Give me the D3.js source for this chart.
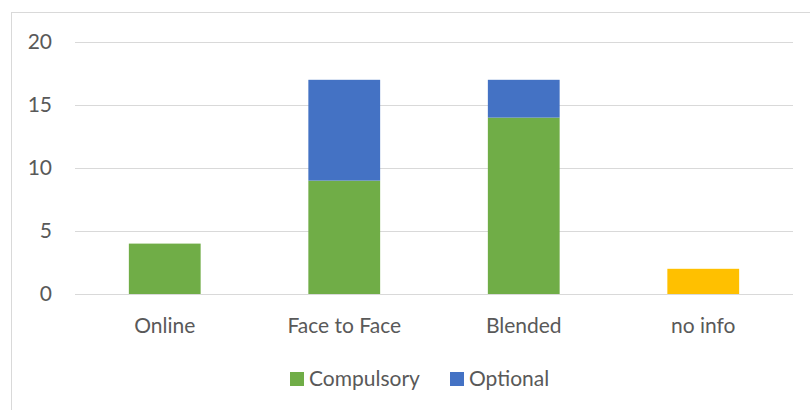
<!DOCTYPE html>
<html>
<head>
<meta charset="utf-8">
<script src="https://cdn.jsdelivr.net/npm/d3@7"></script>
<style>
  body { margin: 0; background: #fff; }
  svg { display: block; font-family: Lato, "Open Sans", sans-serif; }
</style>
</head>
<body>
<script>
const categories = ['Online', 'Face to Face', 'Blended', 'no info'];
const compulsory = [4, 9, 14, 0];
const optional = [0, 8, 3, 0];
const noInfo = [0, 0, 0, 2];
const yTicks = [0, 5, 10, 15, 20];

const seriesKeys = ['Compulsory', 'Optional', 'No info'];
const seriesColors = ['#70AD47', '#4472C4', '#FFC000'];
const legendKeys = ['Compulsory', 'Optional'];

const WIDTH = 810;
const HEIGHT = 410;
const FONT = 21;

const rows = categories.map((c, i) => ({
  cat: c,
  'Compulsory': compulsory[i],
  'Optional': optional[i],
  'No info': noInfo[i]
}));

const svg = d3.select('body').append('svg')
  .attr('width', WIDTH)
  .attr('height', HEIGHT);

// chart frame (cut off at right and bottom like the original)
svg.append('rect')
  .attr('x', 11.5).attr('y', 12.5)
  .attr('width', 820).attr('height', 420)
  .attr('fill', 'none')
  .attr('stroke', '#d9d9d9');

const x = d3.scaleBand()
  .domain(categories)
  .range([75, 793])
  .paddingInner(0.6)
  .paddingOuter(0.3);

const y = d3.scaleLinear()
  .domain([0, 20])
  .range([294, 42]);

// gridlines
svg.append('g')
  .selectAll('line')
  .data(yTicks)
  .join('line')
    .attr('x1', 75).attr('x2', 793)
    .attr('y1', d => Math.round(y(d)) + 0.5)
    .attr('y2', d => Math.round(y(d)) + 0.5)
    .attr('stroke', '#d9d9d9')
    .attr('stroke-width', 1);

// y labels
svg.append('g')
  .selectAll('text')
  .data(yTicks)
  .join('text')
    .attr('x', 52)
    .attr('y', d => y(d))
    .attr('dy', '0.35em')
    .attr('text-anchor', 'end')
    .attr('font-size', FONT)
    .attr('fill', '#595959')
    .text(d => d);

const stacked = d3.stack().keys(seriesKeys)(rows);
const color = d3.scaleOrdinal().domain(seriesKeys).range(seriesColors);

svg.append('g')
  .selectAll('g')
  .data(stacked)
  .join('g')
    .attr('fill', d => color(d.key))
  .selectAll('rect')
  .data(d => d.filter(p => p[1] > p[0]))
  .join('rect')
    .attr('x', d => x(d.data.cat))
    .attr('width', x.bandwidth())
    .attr('y', d => y(d[1]))
    .attr('height', d => y(d[0]) - y(d[1]));

// x labels
svg.append('g')
  .selectAll('text')
  .data(categories)
  .join('text')
    .attr('x', d => x(d) + x.bandwidth() / 2)
    .attr('y', 333)
    .attr('text-anchor', 'middle')
    .attr('font-size', FONT)
    .attr('fill', '#595959')
    .text(d => d);

// legend
const legendPos = [290, 450];
const legend = svg.append('g')
  .selectAll('g')
  .data(legendKeys)
  .join('g')
    .attr('transform', (d, i) => `translate(${legendPos[i]}, 372)`);

legend.append('rect')
  .attr('width', 14).attr('height', 14)
  .attr('fill', d => color(d));

legend.append('text')
  .attr('x', 19)
  .attr('y', 7)
  .attr('dy', '0.35em')
  .attr('font-size', FONT)
  .attr('fill', '#595959')
  .text(d => d);
</script>
</body>
</html>
